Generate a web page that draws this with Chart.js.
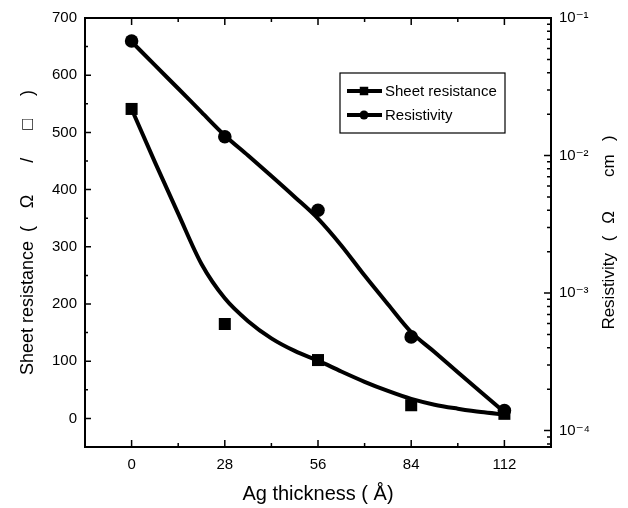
<!DOCTYPE html>
<html><head><meta charset="utf-8">
<script src="https://cdn.jsdelivr.net/npm/chart.js@4.4.1/dist/chart.umd.min.js"></script>
<style>html,body{margin:0;padding:0;background:#fff}</style>
</head><body>
<canvas id="c" width="628" height="508"></canvas>
<script>
// ---- data ----
const thickness = [0, 28, 56, 84, 112];
const sheetResistance = [541, 165, 102, 23, 8];
const resistivity = [0.068, 0.0137, 0.0040, 0.00048, 0.00014];
const fitX = [0, 7, 14, 21, 28, 35, 42, 49, 56, 63, 70, 77, 84, 91, 98, 105, 112];
const sheetFit = [541, 448, 358, 270, 210, 170, 140, 118, 101, 82, 64, 48, 34, 24, 17, 11, 7];
const resistivityFit = [0.0673, 0.0454, 0.0307, 0.0207, 0.0140, 0.0100, 0.0071, 0.0050, 0.00348, 0.00222, 0.00134, 0.00083, 0.00052, 0.000373, 0.000266, 0.00019, 0.000136];
const xTicks = [0, 28, 56, 84, 112];
const xMinorTicks = [14, 42, 70, 98];
const leftTicks = [0, 100, 200, 300, 400, 500, 600, 700];
const leftMinorTicks = [-50, 50, 150, 250, 350, 450, 550, 650];
const rightTicks = [1e-4, 1e-3, 1e-2, 1e-1];
const rightTickLabels = ['10\u207B\u2074', '10\u207B\u00B3', '10\u207B\u00B2', '10\u207B\u00B9'];
const legendLabels = ['Sheet resistance', 'Resistivity'];
const rightTitle = 'Resistivity\u2002\u2009(\u2002\u2009\u03A9\u2003\u2003cm\u2002 )';

const FONT = "'Liberation Sans', Arial, 'DejaVu Sans', sans-serif";
const toPts = (xs, ys) => xs.map((x, i) => ({x: x, y: ys[i]}));

const frameTicks = {
  id: 'frameTicks',
  afterDraw(chart) {
    const {ctx, chartArea: a, scales} = chart;
    ctx.save();
    ctx.strokeStyle = '#000';
    ctx.lineWidth = 1.5;
    ctx.beginPath();
    const xs = scales.x, yl = scales.y, yr = scales.y2;
    xTicks.forEach(v => { const p = xs.getPixelForValue(v);
      ctx.moveTo(p, a.bottom); ctx.lineTo(p, a.bottom - 7);
      ctx.moveTo(p, a.top); ctx.lineTo(p, a.top + 7); });
    xMinorTicks.forEach(v => { const p = xs.getPixelForValue(v);
      ctx.moveTo(p, a.bottom); ctx.lineTo(p, a.bottom - 4);
      ctx.moveTo(p, a.top); ctx.lineTo(p, a.top + 4); });
    leftTicks.forEach(v => { const p = yl.getPixelForValue(v);
      ctx.moveTo(a.left, p); ctx.lineTo(a.left + 6, p); });
    leftMinorTicks.forEach(v => { const p = yl.getPixelForValue(v);
      ctx.moveTo(a.left, p); ctx.lineTo(a.left + 3, p); });
    for (let e = -5; e <= -1; e++) {
      for (let k = 1; k <= 9; k++) {
        const v = k * Math.pow(10, e);
        if (v < yr.min || v > yr.max) continue;
        const p = yr.getPixelForValue(v);
        ctx.moveTo(a.right, p); ctx.lineTo(a.right - (k === 1 ? 7 : 4), p);
      }
    }
    ctx.stroke();
    ctx.lineWidth = 2;
    ctx.strokeRect(a.left, a.top, a.right - a.left, a.bottom - a.top);
    // right axis title, reading bottom-to-top as in the reference
    ctx.translate(609, (a.top + a.bottom) / 2);
    ctx.rotate(-Math.PI / 2);
    ctx.fillStyle = '#000';
    ctx.font = '17px ' + FONT;
    ctx.textAlign = 'center';
    ctx.textBaseline = 'middle';
    ctx.fillText(rightTitle, 0, 0);
    ctx.restore();
  }
};

const boxLegend = {
  id: 'boxLegend',
  afterDraw(chart) {
    const {ctx} = chart;
    const bx = 340, by = 73, bw = 165, bh = 60;
    ctx.save();
    ctx.fillStyle = '#fff';
    ctx.fillRect(bx, by, bw, bh);
    ctx.strokeStyle = '#000';
    ctx.lineWidth = 1.2;
    ctx.strokeRect(bx, by, bw, bh);
    const rows = [{ds: chart.data.datasets[0], y: by + 18}, {ds: chart.data.datasets[1], y: by + 42}];
    rows.forEach((r, i) => {
      ctx.strokeStyle = '#000';
      ctx.lineWidth = 4;
      ctx.beginPath(); ctx.moveTo(bx + 7, r.y); ctx.lineTo(bx + 42, r.y); ctx.stroke();
      ctx.fillStyle = '#000';
      Chart.helpers.drawPoint(ctx, {pointStyle: r.ds.pointStyle, radius: r.ds.pointStyle === 'rect' ? 6 : 4.5, rotation: 0, borderWidth: 0}, bx + 24, r.y);
      ctx.fillStyle = '#000';
      ctx.font = "15px " + FONT;
      ctx.textBaseline = 'middle';
      ctx.textAlign = 'left';
      ctx.fillText(legendLabels[i], bx + 45, r.y + 1);
    });
    ctx.restore();
  }
};

new Chart(document.getElementById('c'), {
  type: 'scatter',
  data: {
    datasets: [
      {label: legendLabels[0], data: toPts(thickness, sheetResistance), yAxisID: 'y',
       pointStyle: 'rect', pointRadius: 8.5, backgroundColor: '#000', borderColor: '#000', borderWidth: 0, showLine: false},
      {label: legendLabels[1], data: toPts(thickness, resistivity), yAxisID: 'y2',
       pointStyle: 'circle', pointRadius: 6.8, backgroundColor: '#000', borderColor: '#000', borderWidth: 0, showLine: false},
      {label: 'fit1', data: toPts(fitX, sheetFit), yAxisID: 'y', showLine: true,
       pointRadius: 0, borderColor: '#000', borderWidth: 4, tension: 0.4, cubicInterpolationMode: 'monotone'},
      {label: 'fit2', data: toPts(fitX, resistivityFit), yAxisID: 'y2', showLine: true,
       pointRadius: 0, borderColor: '#000', borderWidth: 4, tension: 0.4, cubicInterpolationMode: 'monotone'}
    ]
  },
  options: {
    responsive: false,
    animation: false,
    devicePixelRatio: 1,
    layout: {padding: {top: 18, left: 0, right: 0, bottom: 0}},
    plugins: {legend: {display: false}, tooltip: {enabled: false}},
    scales: {
      x: {type: 'linear', position: 'bottom', min: -14, max: 126,
        grid: {display: false, drawTicks: false}, border: {display: false},
        afterBuildTicks: s => { s.ticks = xTicks.map(v => ({value: v})); },
        afterFit: s => { s.height = 61; },
        ticks: {padding: 9, color: '#000', font: {family: FONT, size: 15}},
        title: {display: true, text: 'Ag thickness ( \u00C5)', color: '#000',
          font: {family: FONT, size: 20}, padding: {top: 0, bottom: 2}}
      },
      y: {type: 'linear', position: 'left', min: -50, max: 700,
        grid: {display: false, drawTicks: false}, border: {display: false},
        afterBuildTicks: s => { s.ticks = leftTicks.map(v => ({value: v})); },
        afterFit: s => { s.width = 85; },
        ticks: {padding: 8, color: '#000', font: {family: FONT, size: 15}},
        title: {display: true, text: 'Sheet resistance\u2002(\u2002\u2009 \u03A9\u2003\u2002 /\u2003  \u25A1\u2003 )', color: '#000',
          font: {family: FONT, size: 18}, padding: {top: 17, bottom: 0}}
      },
      y2: {type: 'logarithmic', position: 'right', min: 7.6e-5, max: 0.1,
        grid: {display: false, drawTicks: false}, border: {display: false},
        afterBuildTicks: s => { s.ticks = rightTicks.map(v => ({value: v})); },
        afterFit: s => { s.width = 77; },
        ticks: {padding: 8, color: '#000', font: {family: FONT, size: 15},
          callback: (v) => { const i = rightTicks.findIndex(t => Math.abs(t - v) / t < 1e-6); return i >= 0 ? rightTickLabels[i] : ''; }},
        title: {display: false}
      }
    }
  },
  plugins: [frameTicks, boxLegend]
});
</script>
</body></html>
